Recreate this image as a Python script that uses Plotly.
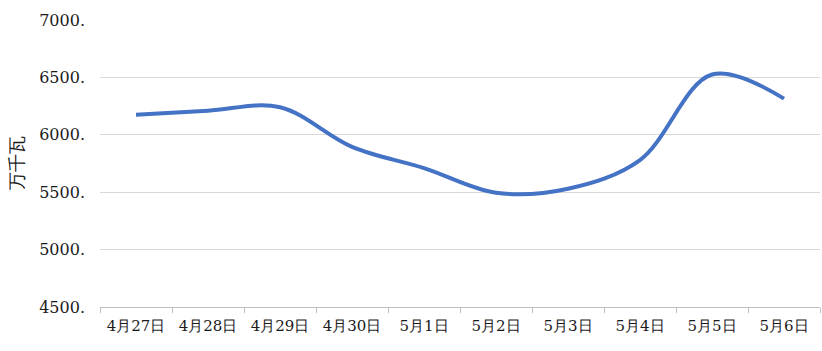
import plotly.graph_objects as go

categories = ["4月27日", "4月28日", "4月29日", "4月30日", "5月1日",
              "5月2日", "5月3日", "5月4日", "5月5日", "5月6日"]
load_values = [6175, 6210, 6240, 5895, 5710, 5495, 5530, 5780, 6525, 6315]
y_ticks = [4500, 5000, 5500, 6000, 6500, 7000]
y_tick_labels = ["4500.", "5000.", "5500.", "6000.", "6500.", "7000."]

font_family = "DejaVu Serif"

fig = go.Figure()
fig.add_trace(go.Scatter(
    x=categories, y=load_values, mode="lines",
    line=dict(color="#4472C4", width=4, shape="spline", smoothing=1.0),
    showlegend=False, hoverinfo="skip",
))

fig.update_layout(
    width=822, height=351,
    margin=dict(l=100, r=2, t=20, b=44),
    paper_bgcolor="white", plot_bgcolor="white",
    font=dict(family=font_family, size=16, color="#262626"),
    xaxis=dict(
        type="category",
        range=[-0.5, 9.5],
        showgrid=False,
        showline=True, linecolor="#bfbfbf", linewidth=1,
        ticks="outside", tickson="boundaries", ticklen=5, tickcolor="#bfbfbf",
        tickangle=0, ticklabelstandoff=5,
        tickfont=dict(family=font_family, size=15, color="#1a1a1a"),
        fixedrange=True,
    ),
    yaxis=dict(
        range=[4500, 7000],
        tickvals=y_ticks, ticktext=y_tick_labels,
        showgrid=True, gridcolor="#d9d9d9", gridwidth=1,
        zeroline=False, showline=False, ticks="",
        ticklabelstandoff=14,
        tickfont=dict(family=font_family, size=16, color="#1a1a1a"),
        title=dict(text="万千瓦", font=dict(family=font_family, size=18, color="#1a1a1a"), standoff=10),
        fixedrange=True,
    ),
)

fig.write_html("out.html")
